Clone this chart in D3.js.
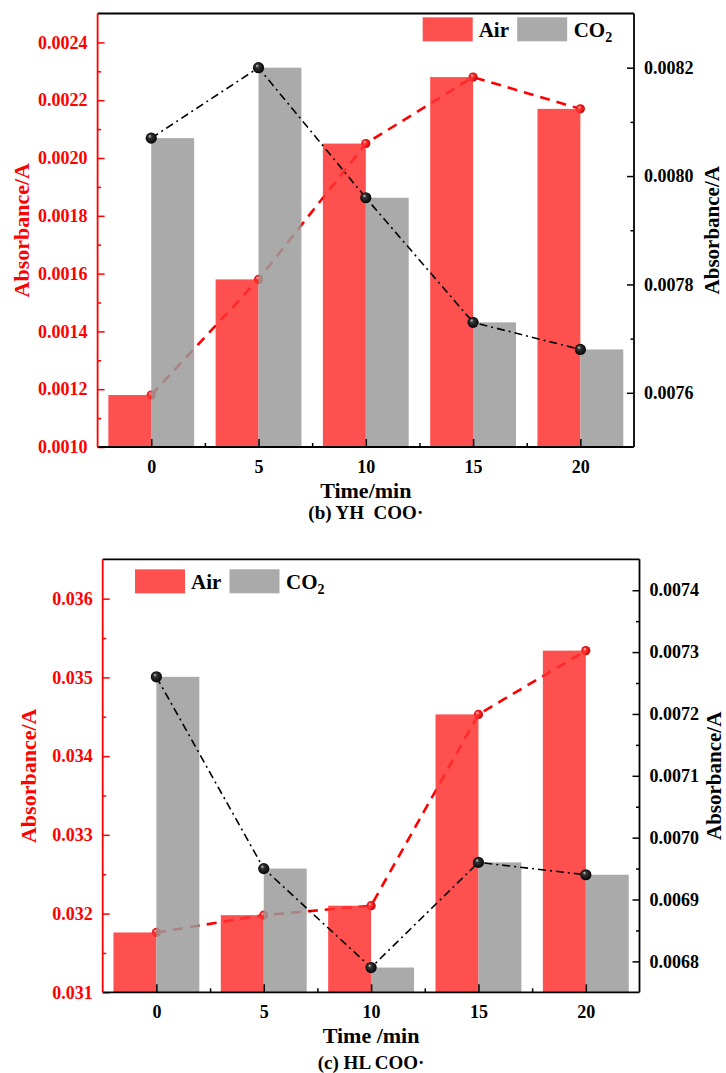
<!DOCTYPE html>
<html>
<head>
<meta charset="utf-8">
<script src="https://cdn.jsdelivr.net/npm/d3@7"></script>
<style>
  body { margin: 0; background: #fff; }
  text { font-family: "Liberation Serif", "Times New Roman", serif; font-weight: bold; }
</style>
</head>
<body>
<div id="canvas"></div>
<script>
// -------------------------------------------- Data
const times = [0, 5, 10, 15, 20];

// (b) YH COO·
const yhAir = [0.00118, 0.00158, 0.00205, 0.00228, 0.00217];
const yhCO2 = [0.00807, 0.0082, 0.00796, 0.00773, 0.00768];
const yhLeftTicks = [0.0010, 0.0012, 0.0014, 0.0016, 0.0018, 0.0020, 0.0022, 0.0024];
const yhRightTicks = [0.0076, 0.0078, 0.0080, 0.0082];

// (c) HL COO·
const hlAir = [0.03176, 0.03198, 0.0321, 0.03453, 0.03534];
const hlCO2 = [0.00726, 0.00695, 0.00679, 0.00696, 0.00694];
const hlLeftTicks = [0.031, 0.032, 0.033, 0.034, 0.035, 0.036];
const hlRightTicks = [0.0068, 0.0069, 0.0070, 0.0071, 0.0072, 0.0073, 0.0074];

const xMinorTicks = [2.5, 7.5, 12.5, 17.5];

// -------------------------------------------- Lienzo
const width = 726;
const height = 1073;
const RED = "#ff0000";
const BAR_RED = "#ff3131";
const BAR_GRAY = "#9b9b9b";
const BAR_OPACITY = 0.85;

const svg = d3.select("#canvas").append("svg")
  .attr("width", width)
  .attr("height", height);

const defs = svg.append("defs");

function ball(id, stops) {
  const gr = defs.append("radialGradient")
    .attr("id", id)
    .attr("cx", "50%").attr("cy", "50%").attr("r", "55%")
    .attr("fx", "35%").attr("fy", "30%");
  stops.forEach(([o, c]) => gr.append("stop").attr("offset", o).attr("stop-color", c));
}
ball("ballRed", [["0%", "#ffd0d0"], ["35%", "#ff2a2a"], ["100%", "#c00000"]]);
ball("ballBlack", [["0%", "#d0d0d0"], ["30%", "#333"], ["100%", "#000"]]);

// -------------------------------------------- Grafico
function drawChart(o) {
  const g = svg.append("g");

  const x = d3.scaleLinear().domain([-2.5, 22.5]).range([o.left, o.right]);
  const yL = d3.scaleLinear().domain(o.leftDomain).range([o.bottom, o.top]);
  const yR = d3.scaleLinear().domain(o.rightDomain).range([o.bottom, o.top]);

  const air = times.map((t, i) => ({ t: t, v: o.air[i] }));
  const co2 = times.map((t, i) => ({ t: t, v: o.co2[i] }));

  // -- Air line (under the bars)
  const lineL = d3.line().x((d) => x(d.t)).y((d) => yL(d.v));
  g.append("path")
    .datum(air)
    .attr("d", lineL)
    .attr("fill", "none")
    .attr("stroke", RED)
    .attr("stroke-width", 2.6)
    .attr("stroke-dasharray", "10,7");

  g.selectAll(".dotAir").data(air).enter()
    .append("circle")
    .attr("cx", (d) => x(d.t))
    .attr("cy", (d) => yL(d.v))
    .attr("r", 4.6)
    .attr("fill", "url(#ballRed)");

  // -- Bars
  g.selectAll(".barAir").data(air).enter()
    .append("rect")
    .attr("x", (d) => x(d.t - 2))
    .attr("y", (d) => yL(d.v))
    .attr("width", (d) => x(d.t) - x(d.t - 2))
    .attr("height", (d) => o.bottom - yL(d.v))
    .attr("fill", BAR_RED)
    .attr("fill-opacity", BAR_OPACITY);

  g.selectAll(".barCO2").data(co2).enter()
    .append("rect")
    .attr("x", (d) => x(d.t))
    .attr("y", (d) => yR(d.v))
    .attr("width", (d) => x(d.t + 2) - x(d.t))
    .attr("height", (d) => o.bottom - yR(d.v))
    .attr("fill", BAR_GRAY)
    .attr("fill-opacity", BAR_OPACITY);

  // -- CO2 line
  const lineR = d3.line().x((d) => x(d.t)).y((d) => yR(d.v));
  g.append("path")
    .datum(co2)
    .attr("d", lineR)
    .attr("fill", "none")
    .attr("stroke", "#000")
    .attr("stroke-width", 1.6)
    .attr("stroke-dasharray", "8,4,2,4");

  g.selectAll(".dotCO2").data(co2).enter()
    .append("circle")
    .attr("cx", (d) => x(d.t))
    .attr("cy", (d) => yR(d.v))
    .attr("r", 5.6)
    .attr("fill", "url(#ballBlack)");

  // -- Ejes
  const styleAxis = (sel, color) => {
    sel.select(".domain").remove();
    sel.selectAll("line").attr("stroke", color).attr("stroke-width", 1.5);
    sel.selectAll("text")
      .attr("fill", color)
      .style("font-size", "18px")
      .style("font-family", '"Liberation Serif", "Times New Roman", serif')
      .style("font-weight", "bold");
  };

  // left
  g.append("g")
    .attr("transform", `translate(${o.left},0)`)
    .call(d3.axisLeft(yL).tickValues(o.leftTicks).tickFormat(d3.format(o.leftFmt))
      .tickSize(-7).tickPadding(10))
    .call(styleAxis, RED);
  g.append("g")
    .attr("transform", `translate(${o.left},0)`)
    .call(d3.axisLeft(yL).tickValues(o.leftMinor).tickFormat("").tickSize(-3.5))
    .call(styleAxis, RED);

  // right
  g.append("g")
    .attr("transform", `translate(${o.right},0)`)
    .call(d3.axisRight(yR).tickValues(o.rightTicks).tickFormat(d3.format(o.rightFmt))
      .tickSize(-7).tickPadding(10))
    .call(styleAxis, "#000");
  g.append("g")
    .attr("transform", `translate(${o.right},0)`)
    .call(d3.axisRight(yR).tickValues(o.rightMinor).tickFormat("").tickSize(-3.5))
    .call(styleAxis, "#000");

  // bottom
  g.append("g")
    .attr("transform", `translate(0,${o.bottom})`)
    .call(d3.axisBottom(x).tickValues(times).tickFormat(d3.format("d"))
      .tickSize(-8).tickPadding(13))
    .call(styleAxis, "#000");
  g.append("g")
    .attr("transform", `translate(0,${o.bottom})`)
    .call(d3.axisBottom(x).tickValues(xMinorTicks).tickFormat("").tickSize(-4))
    .call(styleAxis, "#000");

  // -- Marco
  g.append("line").attr("x1", o.left).attr("x2", o.right).attr("y1", o.top).attr("y2", o.top)
    .attr("stroke", "#000").attr("stroke-width", 1.8);
  g.append("line").attr("x1", o.right).attr("x2", o.right).attr("y1", o.top).attr("y2", o.bottom)
    .attr("stroke", "#000").attr("stroke-width", 1.8);
  g.append("line").attr("x1", o.left).attr("x2", o.right).attr("y1", o.bottom).attr("y2", o.bottom)
    .attr("stroke", "#000").attr("stroke-width", 1.8);
  g.append("line").attr("x1", o.left).attr("x2", o.left).attr("y1", o.top).attr("y2", o.bottom)
    .attr("stroke", RED).attr("stroke-width", 1.8);

  // -- Titulos
  const midY = (o.top + o.bottom) / 2;
  const midX = (o.left + o.right) / 2;
  g.append("text")
    .attr("transform", `translate(${o.leftTitleX},${midY}) rotate(-90)`)
    .attr("dy", "0.35em")
    .attr("text-anchor", "middle")
    .attr("fill", RED)
    .style("font-size", "22px")
    .text("Absorbance/A");
  g.append("text")
    .attr("transform", `translate(${o.rightTitleX},${midY}) rotate(-90)`)
    .attr("dy", "0.35em")
    .attr("text-anchor", "middle")
    .attr("fill", "#000")
    .style("font-size", "21px")
    .text("Absorbance/A");
  g.append("text")
    .attr("x", midX).attr("y", o.xTitleY)
    .attr("text-anchor", "middle")
    .style("font-size", "22px")
    .style("white-space", "pre")
    .text(o.xTitle);
  g.append("text")
    .attr("x", midX).attr("y", o.captionY)
    .attr("text-anchor", "middle")
    .style("font-size", "19px")
    .style("white-space", "pre")
    .text(o.caption);

  // -- Leyenda
  const lg = g.append("g").attr("transform", `translate(${o.legendX},${o.legendY})`);
  lg.append("rect").attr("width", 50).attr("height", 24)
    .attr("fill", BAR_RED).attr("fill-opacity", BAR_OPACITY);
  lg.append("text").attr("x", 56).attr("y", 20).style("font-size", "21px").text("Air");
  lg.append("rect").attr("x", 94.5).attr("width", 50).attr("height", 24)
    .attr("fill", BAR_GRAY).attr("fill-opacity", BAR_OPACITY);
  const co2Text = lg.append("text").attr("x", 151).attr("y", 20).style("font-size", "21px");
  co2Text.append("tspan").text("CO");
  co2Text.append("tspan").attr("dy", 5).style("font-size", "14px").text("2");
}

drawChart({
  left: 97.6, right: 634, top: 13.5, bottom: 447,
  leftDomain: [0.0010, 0.0025], rightDomain: [0.0075, 0.0083],
  air: yhAir, co2: yhCO2,
  leftTicks: yhLeftTicks, leftMinor: d3.range(1, 15, 2).map((k) => 0.0010 + k * 0.0001),
  rightTicks: yhRightTicks, rightMinor: [0.0077, 0.0079, 0.0081],
  leftFmt: ".4f", rightFmt: ".4f",
  leftTitleX: 21, rightTitleX: 712,
  xTitle: "Time/min", xTitleY: 498,
  caption: "(b) YH  COO\u00b7", captionY: 519,
  legendX: 422.7, legendY: 17.3
});

drawChart({
  left: 102.7, right: 639.5, top: 559.3, bottom: 992.3,
  leftDomain: [0.031, 0.0365], rightDomain: [0.00675, 0.00745],
  air: hlAir, co2: hlCO2,
  leftTicks: hlLeftTicks, leftMinor: [0.0315, 0.0325, 0.0335, 0.0345, 0.0355],
  rightTicks: hlRightTicks, rightMinor: [0.00685, 0.00695, 0.00705, 0.00715, 0.00725, 0.00735],
  leftFmt: ".3f", rightFmt: ".4f",
  leftTitleX: 28, rightTitleX: 714,
  xTitle: "Time /min", xTitleY: 1043,
  caption: "(c) HL COO\u00b7", captionY: 1069,
  legendX: 135, legendY: 569.3
});
</script>
</body>
</html>
